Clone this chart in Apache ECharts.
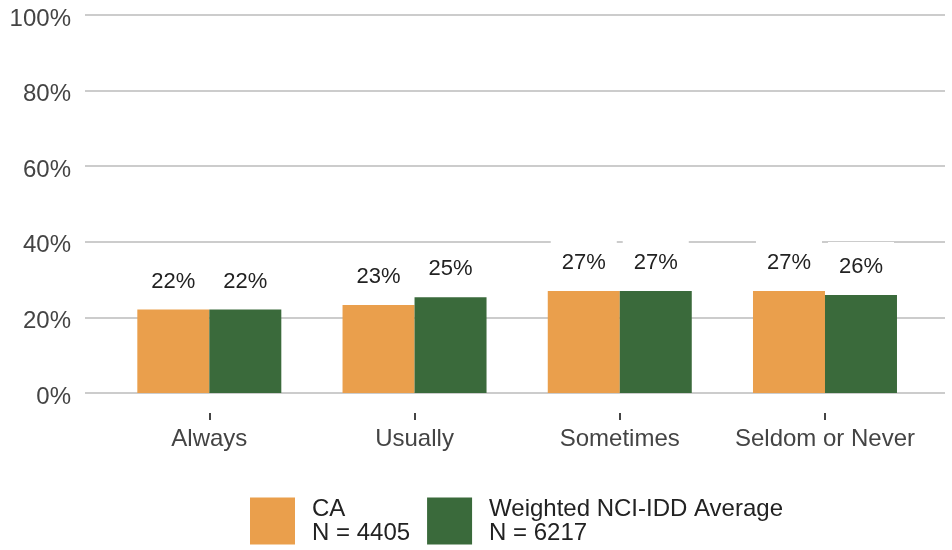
<!DOCTYPE html>
<html>
<head>
<meta charset="utf-8">
<script src="https://cdn.jsdelivr.net/npm/echarts@6/dist/echarts.min.js"></script>
<style>html,body{margin:0;padding:0;background:#fff}#c{width:952px;height:550px}</style>
</head>
<body>
<div id="c"></div>
<script>
const categories = ['Always', 'Usually', 'Sometimes', 'Seldom or Never'];
const caValues = [22.1, 23.3, 27.0, 27.0];
const avgValues = [22.1, 25.3, 27.0, 25.9];
const seriesNames = ['CA\nN = 4405', 'Weighted NCI-IDD Average\nN = 6217'];
const yTicks = [0, 20, 40, 60, 80, 100];

const chart = echarts.init(document.getElementById('c'), null, {renderer: 'canvas'});
const font = 'Arial, "Liberation Sans", sans-serif';
const labelStyle = {
  show: true,
  position: 'top',
  distance: 3,
  formatter: p => Math.round(p.value) + '%',
  fontFamily: font,
  fontSize: 22,
  color: '#222',
  lineHeight: 22,
  backgroundColor: '#fff',
  padding: [14, 11]
};
chart.setOption({
  animation: false,
  textStyle: {fontFamily: font},
  grid: [
    {left: 85, right: 7, top: 15, bottom: 157},
    {left: 106.7, right: 24.4, top: 15, bottom: 157}
  ],
  xAxis: [
    {gridIndex: 0, type: 'category', data: categories, show: false},
    {
      gridIndex: 1, type: 'category', data: categories, offset: 20,
      axisLine: {show: true, onZero: false, lineStyle: {color: 'rgba(0,0,0,0)'}},
      axisTick: {show: true, alignWithLabel: true, length: 7, lineStyle: {color: '#444', width: 2}},
      axisLabel: {interval: 0, fontFamily: font, fontSize: 24, color: '#444', margin: 14}
    }
  ],
  yAxis: [
    {
      gridIndex: 0, type: 'value', min: yTicks[0], max: yTicks[yTicks.length - 1], interval: 20,
      axisLine: {show: false}, axisTick: {show: false},
      axisLabel: {
        formatter: v => '{a|' + v + '%}', margin: 14,
        rich: {a: {fontFamily: font, fontSize: 24, color: '#444', padding: [8, 0, 0, 0]}}
      },
      splitLine: {lineStyle: {color: '#cccccc', width: 2}}
    },
    {gridIndex: 1, type: 'value', min: 0, max: 100, interval: 20, show: false, splitLine: {show: false}}
  ],
  legend: {
    left: 250, top: 497, padding: 0,
    itemWidth: 45, itemHeight: 47, itemGap: 17,
    icon: 'rect',
    textStyle: {fontFamily: font, fontSize: 24, color: '#222', lineHeight: 24, padding: [0, 0, 0, 12]},
    data: seriesNames
  },
  series: [
    {name: seriesNames[0], type: 'bar', xAxisIndex: 1, yAxisIndex: 1, data: caValues, barWidth: 72, barGap: '0%',
     itemStyle: {color: '#EA9F4C'}, label: labelStyle},
    {name: seriesNames[1], type: 'bar', xAxisIndex: 1, yAxisIndex: 1, data: avgValues, barWidth: 72, barGap: '0%',
     itemStyle: {color: '#3A6A3B'}, label: labelStyle}
  ]
});
</script>
</body>
</html>
